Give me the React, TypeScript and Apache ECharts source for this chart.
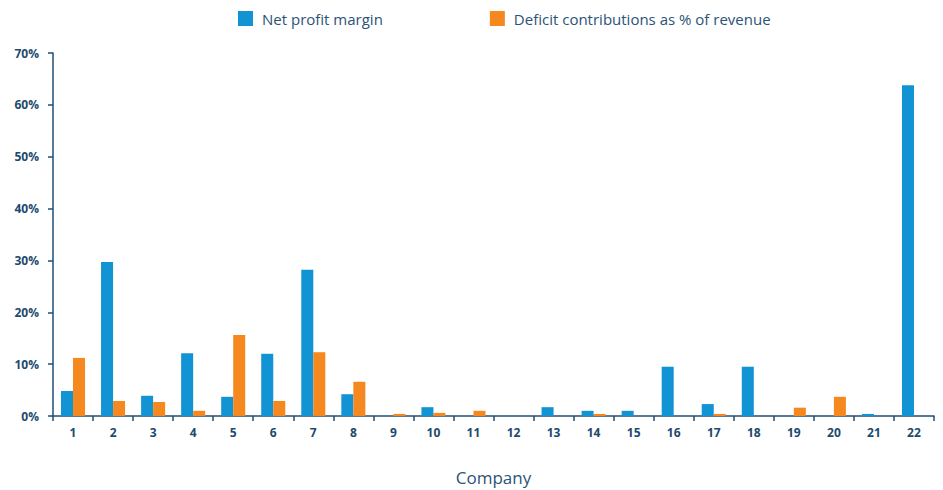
import React, { useEffect, useRef } from "react";
import * as echarts from "echarts";

const companies = ["1","2","3","4","5","6","7","8","9","10","11","12","13","14","15","16","17","18","19","20","21","22"];
const netProfitMargin = [4.8, 29.7, 3.9, 12.1, 3.7, 12.0, 28.2, 4.2, 0, 1.7, 0, 0, 1.7, 1.0, 1.0, 9.5, 2.3, 9.5, 0, 0, 0.4, 63.8];
const deficitContrib = [11.2, 2.9, 2.7, 1.0, 15.6, 2.9, 12.3, 6.6, 0.4, 0.6, 1.0, 0, 0, 0.4, 0, 0, 0.4, 0, 1.6, 3.7, 0, 0];
const seriesNames = ["Net profit margin", "Deficit contributions as % of revenue"];

const BLUE = "#1193d4";
const ORANGE = "#f5891f";
const TEXT = "#1d4a6d";
const AXIS = "#1f4f73";
const FONT = "'Open Sans', 'Noto Sans', sans-serif";

export default function App() {
  const ref = useRef<HTMLDivElement>(null);
  useEffect(() => {
    if (!ref.current) return;
    const chart = echarts.init(ref.current, undefined, { renderer: "svg" });
    chart.setOption({
      animation: false,
      backgroundColor: "#ffffff",
      textStyle: { fontFamily: FONT },
      legend: {
        top: 11,
        left: 238,
        padding: 0,
        itemWidth: 15,
        itemHeight: 15,
        itemGap: 107,
        icon: "rect",
        textStyle: { color: "#2b5376", fontSize: 15, fontFamily: FONT, padding: [0, 0, 0, 4] },
        data: seriesNames,
      },
      grid: {
        left: 53,
        right: 9,
        top: 53,
        bottom: 74,
        containLabel: false,
        outerBoundsMode: "none",
      },
      xAxis: {
        type: "category",
        data: companies,
        name: "Company",
        nameLocation: "middle",
        nameGap: 53,
        nameTextStyle: { color: "#2b5376", fontSize: 17, fontFamily: FONT },
        axisLine: { lineStyle: { color: AXIS, width: 1.5 } },
        axisTick: { show: true, length: 5, lineStyle: { color: AXIS, width: 1.5 } },
        axisLabel: { color: TEXT, fontSize: 12, fontWeight: "bold", margin: 10, fontFamily: FONT },
      },
      yAxis: {
        type: "value",
        min: 0,
        max: 70,
        interval: 10,
        axisLine: { show: true, lineStyle: { color: AXIS, width: 1.5 } },
        axisTick: { show: true, length: 5, lineStyle: { color: AXIS, width: 1.5 } },
        splitLine: { show: false },
        axisLabel: {
          color: TEXT,
          fontSize: 12,
          fontWeight: "bold",
          margin: 14,
          fontFamily: FONT,
          formatter: "{value}%",
        },
      },
      series: [
        {
          name: seriesNames[0],
          type: "bar",
          data: netProfitMargin,
          itemStyle: { color: BLUE },
          barWidth: "30%",
          barGap: "0%",
        },
        {
          name: seriesNames[1],
          type: "bar",
          data: deficitContrib,
          itemStyle: { color: ORANGE },
          barWidth: "30%",
          barGap: "0%",
        },
      ],
    });
    return () => chart.dispose();
  }, []);
  return (
    <div
      ref={ref}
      style={{ position: "absolute", left: 0, top: 0, width: 943, height: 490 }}
    />
  );
}
